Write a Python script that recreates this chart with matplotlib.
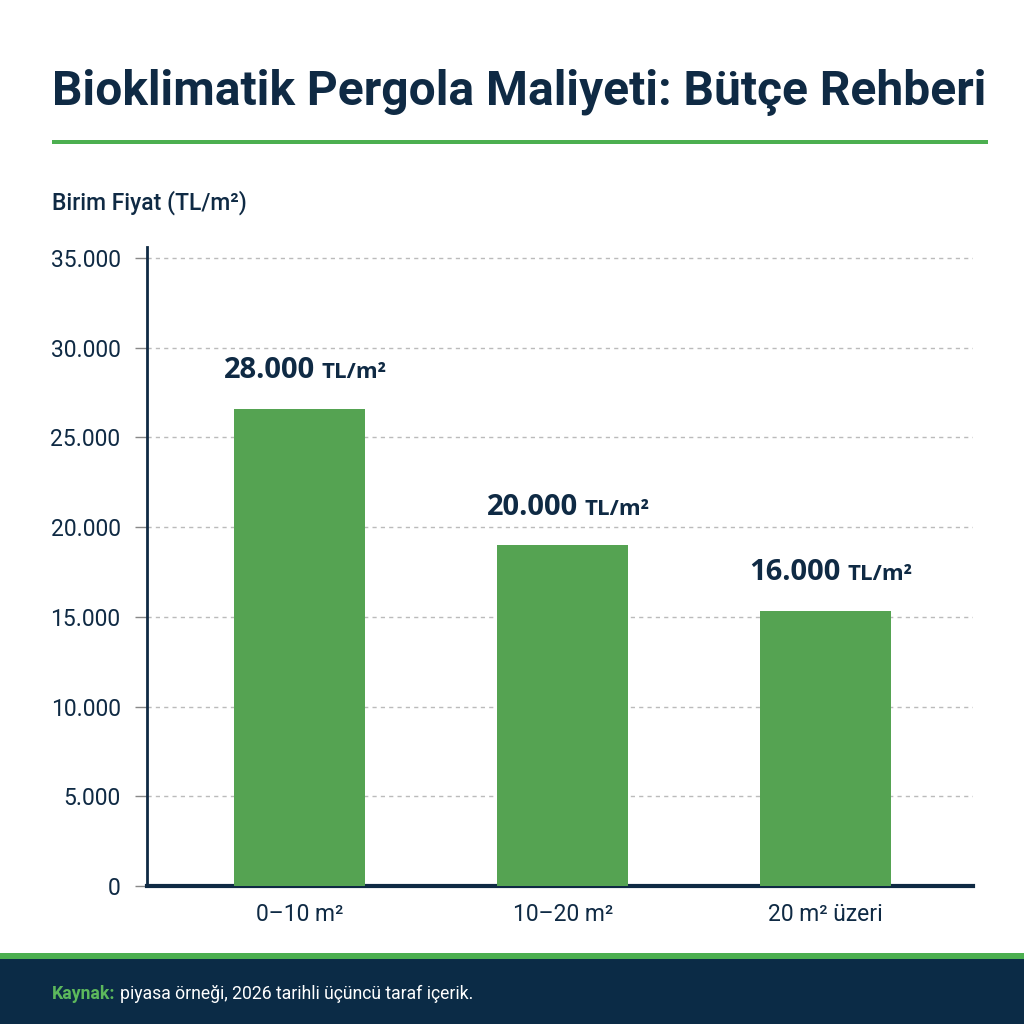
import matplotlib.pyplot as plt
from matplotlib.patches import Rectangle
from matplotlib.ticker import FuncFormatter

plt.rcParams['font.family'] = ['Roboto', 'DejaVu Sans']

categories = ["0–10 m²", "10–20 m²", "20 m² üzeri"]
bar_heights = [26600, 18980, 15320]
bar_numbers = ["28.000", "20.000", "16.000"]
bar_unit = "TL/m²"
yticks = [0, 5000, 10000, 15000, 20000, 25000, 30000, 35000]

navy = "#0f2a44"
green = "#4caf50"
bar_green = "#55a352"

fig = plt.figure(figsize=(10.24, 10.24), dpi=100)
fig.patch.set_facecolor("white")

ax = fig.add_axes([147 / 1024, 138 / 1024, 826 / 1024, 639 / 1024])
x = list(range(len(categories)))
ax.bar(x, bar_heights, width=0.5, color=bar_green, zorder=3)
ax.set_xlim(-0.58, 2.56)
ax.set_ylim(0, 35600)
ax.set_yticks(yticks)
ax.yaxis.set_major_formatter(FuncFormatter(lambda v, p: f"{int(v):,}".replace(",", ".")))
ax.set_xticks(x)
ax.set_xticklabels(categories)
ax.grid(axis="y", color="#bbbbbb", linestyle=(0, (3, 3)), linewidth=1, zorder=0)
for s in ["top", "right"]:
    ax.spines[s].set_visible(False)
ax.spines["left"].set_color(navy)
ax.spines["left"].set_linewidth(2)
ax.spines["bottom"].set_color(navy)
ax.spines["bottom"].set_linewidth(3)
ax.tick_params(axis="y", length=9, color="#888888", width=1, pad=10,
               labelsize=16.5, labelcolor=navy)
ax.tick_params(axis="x", length=0, pad=12, labelsize=16.5, labelcolor=navy)

# value labels: bold number + smaller unit on one baseline, centred over each bar
fig.canvas.draw()
r = fig.canvas.get_renderer()
lift = 22
for xi, h, num in zip(x, bar_heights, bar_numbers):
    t1 = ax.annotate(num, (xi, h), xytext=(0, lift), textcoords="offset points",
                     ha="left", va="baseline", fontsize=21, fontweight="bold",
                     color=navy, family=["Open Sans", "DejaVu Sans"])
    t2 = ax.annotate(bar_unit, (xi, h), xytext=(0, lift), textcoords="offset points",
                     ha="left", va="baseline", fontsize=16, fontweight="bold",
                     color=navy, family=["Open Sans", "DejaVu Sans"])
    w1 = t1.get_window_extent(r).width
    w2 = t2.get_window_extent(r).width
    gap = 7
    total = w1 + gap + w2
    t1.set_position((-total / 2 * 0.72 + 4, lift))
    t2.set_position(((-total / 2 + w1 + gap) * 0.72 + 4, lift))

fig.text(52 / 1024, 1 - 92 / 1024, "Bioklimatik Pergola Maliyeti: Bütçe Rehberi",
         fontsize=34.5, fontweight="bold", color=navy, va="center", ha="left")
fig.add_artist(Rectangle((52 / 1024, 1 - 144 / 1024), 936 / 1024, 4 / 1024,
                         transform=fig.transFigure, color=green, lw=0))
fig.text(52 / 1024, 1 - 203 / 1024, "Birim Fiyat (TL/m²)", fontsize=16.5,
         fontweight="medium", color=navy, va="center", ha="left")

# footer band
fig.add_artist(Rectangle((0, 0), 1, 65 / 1024, transform=fig.transFigure,
                         color="#0b2b46", lw=0))
fig.add_artist(Rectangle((0, 65 / 1024), 1, 6 / 1024, transform=fig.transFigure,
                         color=green, lw=0))
k = fig.text(52 / 1024, 1 - 994 / 1024, "Kaynak:", fontsize=12.7, fontweight="bold",
             color="#5cb85c", va="center", ha="left")
fig.canvas.draw()
kw = k.get_window_extent(fig.canvas.get_renderer()).width
fig.text((52 + kw + 5) / 1024, 1 - 994 / 1024,
         "piyasa örneği, 2026 tarihli üçüncü taraf içerik.", fontsize=12.7,
         color="white", va="center", ha="left")

fig.savefig("out.png", dpi=100)
